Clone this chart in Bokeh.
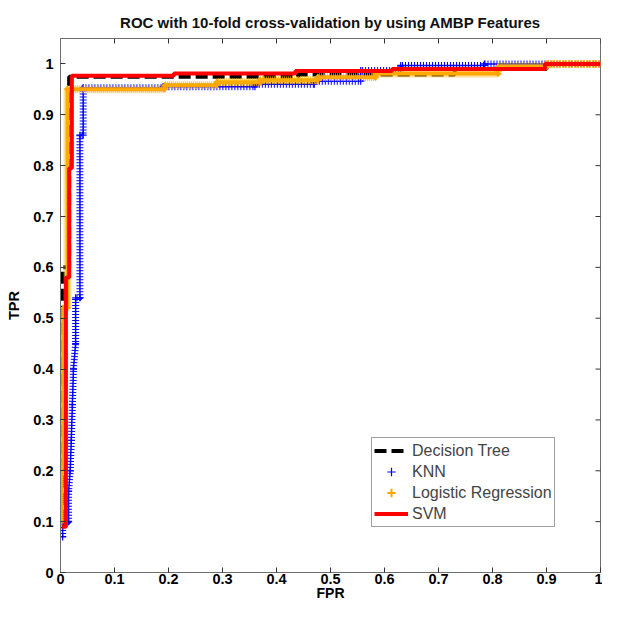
import math
from bokeh.plotting import figure
from bokeh.models import Range1d, FixedTicker, Legend, LegendItem
from bokeh.embed import file_html
from bokeh.resources import INLINE

# ---- data ----
dt_fpr = [0.004, 0.004, 0.016, 0.016, 0.44, 0.44, 0.73, 0.73, 0.9, 0.9, 1.0]
dt_tpr = [0.10, 0.60, 0.60, 0.975, 0.975, 0.979, 0.979, 0.99, 0.99, 1.0, 1.0]

knn_fpr = [0.004, 0.004, 0.015, 0.015, 0.018, 0.020, 0.022, 0.024, 0.028, 0.028,
           0.036, 0.036, 0.042, 0.042, 0.19, 0.19, 0.36, 0.36, 0.47, 0.47,
           0.556, 0.556, 0.63, 0.63, 0.785, 0.785, 1.0]
knn_tpr = [0.07, 0.10, 0.10, 0.16, 0.20, 0.26, 0.33, 0.40, 0.45, 0.54,
           0.54, 0.86, 0.86, 0.953, 0.953, 0.955, 0.955, 0.96, 0.96, 0.966,
           0.966, 0.987, 0.987, 0.997, 0.997, 1.0, 1.0]

lr_fpr = [0.002, 0.002, 0.005, 0.005, 0.013, 0.013, 0.193, 0.193, 0.29, 0.29,
          0.37, 0.37, 0.477, 0.477, 0.583, 0.583, 0.81, 0.81, 0.9, 0.9, 1.0]
lr_tpr = [0.10, 0.21, 0.21, 0.52, 0.52, 0.95, 0.95, 0.958, 0.958, 0.964,
          0.964, 0.968, 0.968, 0.974, 0.974, 0.981, 0.981, 0.995, 0.995, 1.0, 1.0]

svm_fpr = [0.002, 0.010, 0.010, 0.016, 0.016, 0.021, 0.021, 0.21, 0.21, 0.435,
           0.435, 0.614, 0.614, 0.897, 0.897, 1.0]
svm_tpr = [0.09, 0.09, 0.58, 0.58, 0.795, 0.795, 0.977, 0.977, 0.981, 0.981,
           0.986, 0.986, 0.99, 0.99, 1.0, 1.0]

x_ticks = [0, 0.1, 0.2, 0.3, 0.4, 0.5, 0.6, 0.7, 0.8, 0.9, 1]
x_tick_labels = ["0", "0.1", "0.2", "0.3", "0.4", "0.5", "0.6", "0.7", "0.8", "0.9", "1"]
y_ticks = [0, 0.1, 0.2, 0.3, 0.4, 0.5, 0.6, 0.7, 0.8, 0.9, 1]
y_tick_labels = ["0", "0.1", "0.2", "0.3", "0.4", "0.5", "0.6", "0.7", "0.8", "0.9", "1"]

series_names = ["Decision Tree", "KNN", "Logistic Regression", "SVM"]
title_text = "ROC with 10-fold cross-validation by using AMBP Features"

FONT = "Liberation Sans"
AX = "#6e6e6e"
TICK = "#333333"

p = figure(width=602, height=603, x_range=Range1d(0, 1), y_range=Range1d(0, 1.05),
           output_backend="svg", toolbar_location=None, title=title_text,
           min_border_left=60, min_border_right=2, min_border_top=38, min_border_bottom=26)
p.title.align = "center"
p.title.text_font = FONT
p.title.text_font_size = "15px"
p.title.text_font_style = "bold"
p.title.text_color = "#111111"
p.title.offset = 6
p.title.standoff = 15
p.xgrid.visible = False
p.ygrid.visible = False
p.outline_line_color = AX
p.background_fill_color = "white"
p.border_fill_color = "white"

for ax, ticks, labs in ((p.xaxis[0], x_ticks, x_tick_labels), (p.yaxis[0], y_ticks, y_tick_labels)):
    ax.ticker = FixedTicker(ticks=ticks)
    ax.major_label_overrides = {t: l for t, l in zip(ticks, labs)}
    ax.major_tick_in = 5
    ax.major_tick_out = 0
    ax.minor_tick_in = 0
    ax.minor_tick_out = 0
    ax.axis_line_color = AX
    ax.major_tick_line_color = TICK
    ax.major_label_text_font = FONT
    ax.major_label_text_font_size = "14.5px"
    ax.major_label_text_font_style = "bold"
    ax.major_label_text_color = "black"
    ax.axis_label_text_font = FONT
    ax.axis_label_text_font_size = "14.5px"
    ax.axis_label_text_font_style = "bold"
    ax.axis_label_text_color = "black"
p.xaxis.axis_label = "FPR"
p.yaxis.axis_label = "TPR"
p.xaxis.major_label_standoff = 1
p.xaxis.axis_label_standoff = -2
p.xaxis.axis_label_text_font_size = "14px"
p.yaxis.major_label_standoff = 7
p.yaxis.axis_label_standoff = 8

# inward ticks on the top and right edges of the box
top = p.y_range.end
right = p.x_range.end
p.ray(x=x_ticks, y=[top] * len(x_ticks), length=5, length_units="screen",
      angle=-math.pi / 2, line_color=TICK, line_width=1)
p.ray(x=[right] * len(y_ticks), y=y_ticks, length=5, length_units="screen",
      angle=math.pi, line_color=TICK, line_width=1)

# Decision tree
r_dt = p.line(dt_fpr, dt_tpr, line_color="black", line_width=4, line_dash="12 5")

# KNN (dense '+' markers look)
p.line(knn_fpr, knn_tpr, line_color="blue", line_width=1.5)
p.line(knn_fpr, knn_tpr, line_color="blue", line_width=7, line_dash="1 2")
r_knn = p.scatter(knn_fpr, knn_tpr, marker="cross", size=7, line_color="blue", line_width=1.2)

# Logistic regression
p.line(lr_fpr, lr_tpr, line_color="#FFA500", line_width=4)
p.line(lr_fpr, lr_tpr, line_color="#FFB000", line_width=8, line_dash="1 1", line_alpha=0.8)
r_lr = p.scatter(lr_fpr, lr_tpr, marker="cross", size=6, line_color="#FFA500", line_width=2)

# SVM
r_svm = p.line(svm_fpr, svm_tpr, line_color="red", line_width=4)

legend = Legend(items=[LegendItem(label=series_names[0], renderers=[r_dt]),
                       LegendItem(label=series_names[1], renderers=[r_knn]),
                       LegendItem(label=series_names[2], renderers=[r_lr]),
                       LegendItem(label=series_names[3], renderers=[r_svm])],
                location=(311, 45), border_line_color="#444444", border_line_width=1,
                background_fill_color="white", background_fill_alpha=1,
                label_text_font=FONT, label_text_font_size="16px",
                label_height=21, glyph_height=21, glyph_width=34, spacing=0,
                padding=2, label_standoff=4, margin=0)
p.add_layout(legend, "center")

open("out.html", "w").write(file_html(p, INLINE))
